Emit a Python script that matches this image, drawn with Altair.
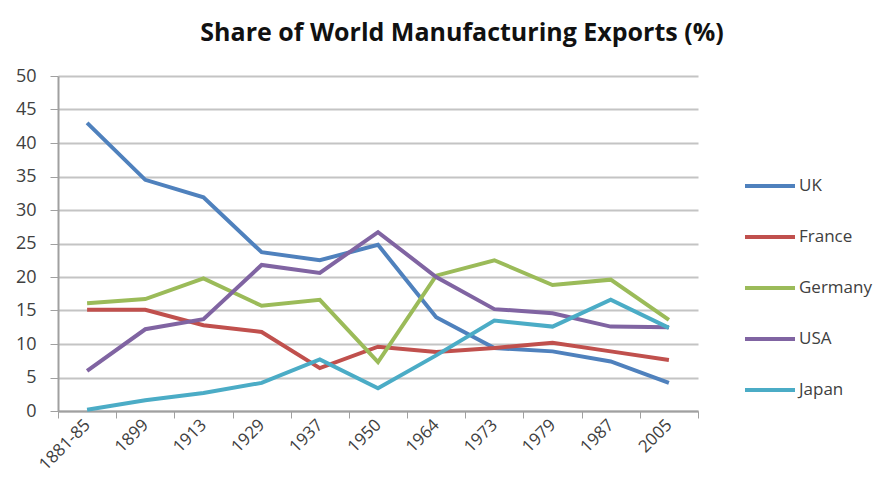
import altair as alt
import pandas as pd

years = ["1881-85", "1899", "1913", "1929", "1937", "1950", "1964", "1973", "1979", "1987", "2005"]
countries = ["UK", "France", "Germany", "USA", "Japan"]
uk = [43.0, 34.5, 31.9, 23.7, 22.5, 24.8, 14.0, 9.4, 8.9, 7.4, 4.2]
france = [15.1, 15.1, 12.8, 11.8, 6.4, 9.6, 8.8, 9.4, 10.2, 8.9, 7.6]
germany = [16.1, 16.7, 19.8, 15.7, 16.6, 7.3, 20.2, 22.5, 18.8, 19.6, 13.6]
usa = [6.0, 12.2, 13.7, 21.8, 20.6, 26.7, 20.0, 15.2, 14.6, 12.6, 12.5]
japan = [0.2, 1.6, 2.7, 4.2, 7.7, 3.4, 8.3, 13.5, 12.6, 16.6, 12.4]
colors = ["#4F81BD", "#C0504D", "#9BBB59", "#8064A2", "#4BACC6"]

series = [uk, france, germany, usa, japan]
rows = []
for c, vals in zip(countries, series):
    for y, v in zip(years, vals):
        rows.append({"Year": y, "Country": c, "Share": v})
df = pd.DataFrame(rows)

font = "Open Sans"

chart = alt.Chart(df).mark_line(strokeWidth=4).encode(
    x=alt.X("Year:N", sort=years, title=None,
            scale=alt.Scale(paddingInner=0, paddingOuter=0),
            axis=alt.Axis(labelAngle=-45, labelAlign="right", labelBaseline="middle",
                          labelFont=font, labelFontSize=17, labelColor="#404040",
                          tickBand="extent", ticks=True, tickSize=7, tickColor="#a0a0a0",
                          domainColor="#a0a0a0", domainWidth=2, grid=False,
                          labelPadding=4)),
    y=alt.Y("Share:Q", title=None,
            scale=alt.Scale(domain=[0, 50], nice=False),
            axis=alt.Axis(values=list(range(0, 51, 5)), labelFont=font, labelFontSize=18,
                          labelColor="#404040", tickSize=8, tickColor="#a0a0a0",
                          domainColor="#a0a0a0", domainWidth=2, gridColor="#c4c4c4",
                          gridWidth=2, labelPadding=14)),
    color=alt.Color("Country:N", sort=countries,
                    scale=alt.Scale(domain=countries, range=colors),
                    legend=alt.Legend(title=None, orient="none", legendX=685, legendY=83,
                                      symbolType="stroke", symbolSize=2500,
                                      symbolStrokeWidth=4, labelFont=font,
                                      labelFontSize=17, labelColor="#404040",
                                      labelOffset=2, rowPadding=16)),
).properties(
    width=640,
    height=335,
    title=alt.TitleParams("Share of World Manufacturing Exports (%)", font=font,
                          fontSize=25, fontWeight="bold", color="#111111",
                          anchor="middle", dx=84, offset=21),
    autosize=alt.AutoSizeParams(type="none"),
    padding={"left": 50, "top": 68, "right": 190, "bottom": 83},
).configure_view(stroke=None)

chart.save("out.html", embed_options={"renderer": "svg", "actions": False})
